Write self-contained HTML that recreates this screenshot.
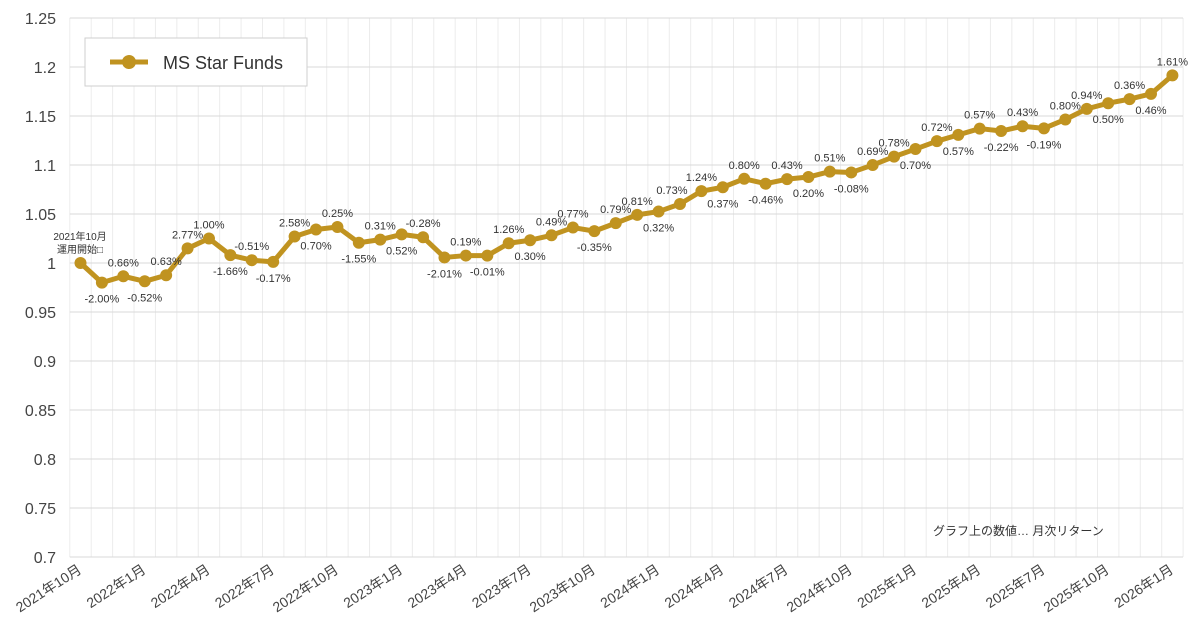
<!DOCTYPE html>
<html><head><meta charset="utf-8"><style>
html,body{margin:0;padding:0;background:#fff;}
svg{display:block;font-family:"Liberation Sans","Noto Sans CJK JP",sans-serif;}
</style></head><body>
<svg id="c" width="1200" height="637" xmlns="http://www.w3.org/2000/svg"></svg>
<script>
const r=[-2.00,0.66,-0.52,0.63,2.77,1.00,-1.66,-0.51,-0.17,2.58,0.70,0.25,-1.55,0.31,0.52,-0.28,-2.01,0.19,-0.01,1.26,0.30,0.49,0.77,-0.35,0.79,0.81,0.32,0.73,1.24,0.37,0.80,-0.46,0.43,0.20,0.51,-0.08,0.69,0.78,0.70,0.72,0.57,0.57,-0.22,0.43,-0.19,0.80,0.94,0.50,0.36,0.46,1.61];
const above=[0,1,0,1,1,1,0,1,0,1,0,1,0,1,0,1,0,1,0,1,0,1,1,0,1,1,0,1,1,0,1,0,1,0,1,0,1,1,0,1,0,1,0,1,0,1,1,0,1,0,1];
let v=[1];for(const x of r)v.push(v[v.length-1]*(1+x/100));
const X=i=>80.5+i*21.41, Y=val=>263-(val-1)*980;
let s='';
for(let i=0;i<=52;i++){const x=69.8+i*21.41;s+=`<line x1="${x}" y1="18" x2="${x}" y2="557" stroke="#ececec" stroke-width="1"/>`;}
for(let k=0;k<=11;k++){const val=0.7+k*0.05;const y=Y(val);s+=`<line x1="69.8" y1="${y}" x2="1183" y2="${y}" stroke="#d9d9d9" stroke-width="1"/>`;
let t=(Math.round(val*100)/100).toString();s+=`<text x="56" y="${y+6}" font-size="16" fill="#444" text-anchor="end">${t}</text>`;}
let pts=v.map((a,i)=>`${X(i)},${Y(a)}`).join(' ');
s+=`<polyline points="${pts}" fill="none" stroke="#c09320" stroke-width="5" stroke-linejoin="round"/>`;
v.forEach((a,i)=>{s+=`<circle cx="${X(i)}" cy="${Y(a)}" r="6" fill="#c09320"/>`;});
r.forEach((x,j)=>{const i=j+1;const yy=Y(v[i])+(above[j]?-10:20);let xx=X(i);if(j==27)xx-=8;
s+=`<text x="${xx}" y="${yy}" font-size="11" fill="#333" text-anchor="middle">${x.toFixed(2)}%</text>`;});
s+=`<text x="80" y="240" font-size="10" fill="#333" text-anchor="middle">2021年10月</text><text x="80" y="253" font-size="10" fill="#333" text-anchor="middle">運用開始□</text>`;
for(let i=0;i<=51;i+=3){const m=(9+i)%12+1;const yr=2021+Math.floor((9+i)/12);const x=X(i)+2,y=572;
s+=`<text transform="translate(${x},${y}) rotate(-33)" font-size="14" fill="#444" text-anchor="end">${yr}年${m}月</text>`;}
s+=`<rect x="85" y="38" width="222" height="48" fill="#fff" stroke="#cfcfcf"/>`;
s+=`<line x1="110" y1="62" x2="148" y2="62" stroke="#c09320" stroke-width="5"/><circle cx="129" cy="62" r="7" fill="#c09320"/>`;
s+=`<text x="163" y="69" font-size="18" fill="#333">MS Star Funds</text>`;
s+=`<text x="933" y="535" font-size="12" fill="#333">グラフ上の数値… 月次リターン</text>`;
document.getElementById('c').innerHTML=s;
</script>
</body></html>
